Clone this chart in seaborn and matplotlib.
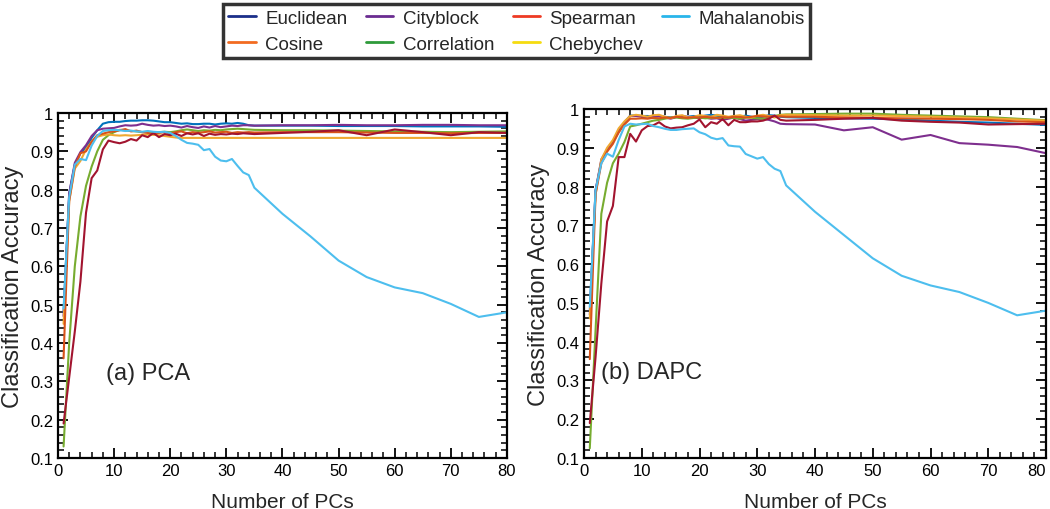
import pandas as pd
import matplotlib.pyplot as plt
import seaborn as sns
from matplotlib.lines import Line2D
from matplotlib.ticker import MultipleLocator, FuncFormatter

sns.set_theme(style='ticks')
plt.rcParams['font.family'] = ['Liberation Sans', 'DejaVu Sans']

pcs = list(range(1, 36)) + [40, 45, 50, 55, 60, 65, 70, 75, 80]
x_ticks = [0, 10, 20, 30, 40, 50, 60, 70, 80]

metrics = ['Euclidean', 'Cosine', 'Cityblock', 'Correlation', 'Spearman', 'Chebychev', 'Mahalanobis']

# line colours in the panels
line_colors = {
    'Euclidean': '#0072BD',
    'Cosine': '#D95319',
    'Cityblock': '#7E2F8E',
    'Correlation': '#77AC30',
    'Spearman': '#A2142F',
    'Chebychev': '#F0A830',
    'Mahalanobis': '#4DBEEE',
}
# colours used in the legend box
legend_colors = {
    'Euclidean': '#1b2f8a',
    'Cosine': '#f26b21',
    'Cityblock': '#6a2c91',
    'Correlation': '#2e9a3a',
    'Spearman': '#ee3a24',
    'Chebychev': '#f5dc10',
    'Mahalanobis': '#29b5ea',
}

# ---- (a) PCA ----
pca_euclidean = [0.48, 0.79, 0.865, 0.895, 0.91, 0.935, 0.955, 0.972, 0.976, 0.977, 0.977, 0.979, 0.98, 0.98, 0.981,
                 0.981, 0.98, 0.978, 0.976, 0.976, 0.974, 0.972, 0.973, 0.971, 0.971, 0.972, 0.972, 0.97, 0.972, 0.973,
                 0.972, 0.974, 0.972, 0.968, 0.967, 0.967, 0.967, 0.966, 0.966, 0.966, 0.965, 0.965, 0.965, 0.964]
pca_cityblock = [0.47, 0.79, 0.87, 0.898, 0.916, 0.94, 0.955, 0.959, 0.96, 0.961, 0.965, 0.968, 0.967, 0.968, 0.972,
                 0.969, 0.967, 0.968, 0.966, 0.967, 0.965, 0.962, 0.966, 0.963, 0.961, 0.965, 0.962, 0.966, 0.963, 0.965,
                 0.967, 0.966, 0.968, 0.968, 0.967, 0.968, 0.968, 0.969, 0.968, 0.968, 0.969, 0.969, 0.968, 0.968]
pca_cosine = [0.36, 0.77, 0.86, 0.895, 0.9, 0.925, 0.942, 0.946, 0.95, 0.952, 0.955, 0.958, 0.952, 0.954, 0.95,
              0.948, 0.945, 0.948, 0.95, 0.946, 0.95, 0.952, 0.947, 0.95, 0.948, 0.95, 0.952, 0.949, 0.95, 0.951,
              0.948, 0.95, 0.949, 0.95, 0.949, 0.95, 0.95, 0.95, 0.949, 0.948, 0.948, 0.947, 0.948, 0.948]
pca_correlation = [0.13, 0.4, 0.6, 0.73, 0.81, 0.86, 0.9, 0.93, 0.942, 0.95, 0.956, 0.955, 0.953, 0.952, 0.95,
                   0.951, 0.949, 0.95, 0.951, 0.95, 0.952, 0.955, 0.957, 0.955, 0.953, 0.955, 0.954, 0.956, 0.955, 0.957,
                   0.958, 0.959, 0.958, 0.957, 0.956, 0.955, 0.955, 0.954, 0.953, 0.952, 0.951, 0.95, 0.951, 0.952]
pca_spearman = [0.19, 0.31, 0.43, 0.56, 0.74, 0.83, 0.85, 0.905, 0.928, 0.924, 0.921, 0.925, 0.932, 0.928, 0.942,
                0.937, 0.948, 0.937, 0.945, 0.942, 0.946, 0.94, 0.947, 0.944, 0.947, 0.94, 0.946, 0.943, 0.945, 0.944,
                0.946, 0.945, 0.947, 0.946, 0.945, 0.948, 0.951, 0.955, 0.942, 0.957, 0.95, 0.942, 0.95, 0.948]
pca_chebychev = [0.45, 0.77, 0.855, 0.875, 0.905, 0.925, 0.938, 0.942, 0.944, 0.942, 0.941, 0.942, 0.941, 0.942, 0.943,
                 0.944, 0.943, 0.942, 0.94, 0.938, 0.936, 0.935, 0.935, 0.935, 0.935, 0.935, 0.935, 0.935, 0.935, 0.935,
                 0.935, 0.935, 0.935, 0.935, 0.935, 0.935, 0.935, 0.935, 0.935, 0.935, 0.935, 0.935, 0.935, 0.935]
pca_mahalanobis = [0.49, 0.78, 0.865, 0.88, 0.877, 0.915, 0.94, 0.953, 0.955, 0.956, 0.955, 0.953, 0.954, 0.952, 0.951,
                   0.953, 0.951, 0.95, 0.951, 0.948, 0.94, 0.93, 0.922, 0.92, 0.917, 0.903, 0.906, 0.886, 0.876, 0.874,
                   0.88, 0.862, 0.845, 0.838, 0.805, 0.737, 0.678, 0.615, 0.572, 0.545, 0.53, 0.502, 0.468, 0.48]

# ---- (b) DAPC ----
dapc_euclidean = [0.48, 0.79, 0.865, 0.895, 0.915, 0.945, 0.965, 0.983, 0.983, 0.982, 0.982, 0.981, 0.982, 0.98, 0.978,
                  0.98, 0.977, 0.98, 0.982, 0.98, 0.983, 0.985, 0.983, 0.98, 0.978, 0.982, 0.98, 0.983, 0.98, 0.978,
                  0.98, 0.984, 0.983, 0.98, 0.979, 0.977, 0.976, 0.975, 0.973, 0.97, 0.967, 0.965, 0.962, 0.959]
dapc_cityblock = [0.47, 0.79, 0.87, 0.895, 0.915, 0.94, 0.965, 0.982, 0.982, 0.98, 0.978, 0.98, 0.981, 0.978, 0.975,
                  0.979, 0.982, 0.98, 0.978, 0.976, 0.978, 0.975, 0.976, 0.972, 0.975, 0.978, 0.974, 0.97, 0.972, 0.974,
                  0.975, 0.972, 0.968, 0.962, 0.961, 0.96, 0.945, 0.953, 0.921, 0.933, 0.912, 0.908, 0.902, 0.886]
dapc_cosine = [0.355, 0.78, 0.86, 0.89, 0.91, 0.94, 0.96, 0.975, 0.975, 0.976, 0.975, 0.977, 0.976, 0.978, 0.977,
               0.98, 0.978, 0.977, 0.979, 0.978, 0.98, 0.978, 0.977, 0.979, 0.978, 0.98, 0.979, 0.978, 0.98, 0.982,
               0.981, 0.98, 0.982, 0.981, 0.98, 0.98, 0.978, 0.977, 0.976, 0.975, 0.974, 0.972, 0.968, 0.966]
dapc_correlation = [0.125, 0.43, 0.73, 0.81, 0.86, 0.885, 0.915, 0.955, 0.958, 0.962, 0.966, 0.97, 0.972, 0.975, 0.978,
                    0.978, 0.976, 0.975, 0.977, 0.978, 0.976, 0.977, 0.978, 0.976, 0.978, 0.977, 0.975, 0.978, 0.977,
                    0.976, 0.975, 0.978, 0.982, 0.985, 0.986, 0.987, 0.988, 0.988, 0.985, 0.983, 0.981, 0.979, 0.975,
                    0.971]
dapc_spearman = [0.19, 0.36, 0.55, 0.71, 0.75, 0.876, 0.876, 0.936, 0.916, 0.945, 0.956, 0.958, 0.966, 0.955, 0.95,
                 0.952, 0.953, 0.958, 0.962, 0.973, 0.953, 0.966, 0.962, 0.974, 0.958, 0.972, 0.966, 0.966, 0.968, 0.968,
                 0.97, 0.975, 0.983, 0.972, 0.97, 0.972, 0.975, 0.977, 0.97, 0.967, 0.965, 0.96, 0.961, 0.962]
dapc_chebychev = [0.46, 0.78, 0.87, 0.9, 0.92, 0.95, 0.968, 0.982, 0.985, 0.983, 0.98, 0.984, 0.985, 0.98, 0.976,
                  0.982, 0.984, 0.978, 0.98, 0.984, 0.982, 0.98, 0.985, 0.983, 0.98, 0.982, 0.984, 0.98, 0.978, 0.983,
                  0.985, 0.982, 0.978, 0.984, 0.985, 0.984, 0.983, 0.983, 0.982, 0.98, 0.978, 0.976, 0.973, 0.97]
dapc_mahalanobis = [0.49, 0.79, 0.86, 0.885, 0.877, 0.92, 0.955, 0.962, 0.96, 0.961, 0.962, 0.956, 0.953, 0.949, 0.946,
                    0.946, 0.948, 0.949, 0.95, 0.94, 0.935, 0.926, 0.922, 0.925, 0.906, 0.904, 0.903, 0.884, 0.878,
                    0.872, 0.876, 0.858, 0.846, 0.84, 0.803, 0.735, 0.675, 0.615, 0.57, 0.545, 0.528, 0.5, 0.468, 0.48]

pca = {'Euclidean': pca_euclidean, 'Cosine': pca_cosine, 'Cityblock': pca_cityblock,
       'Correlation': pca_correlation, 'Spearman': pca_spearman, 'Chebychev': pca_chebychev,
       'Mahalanobis': pca_mahalanobis}
dapc = {'Euclidean': dapc_euclidean, 'Cosine': dapc_cosine, 'Cityblock': dapc_cityblock,
        'Correlation': dapc_correlation, 'Spearman': dapc_spearman, 'Chebychev': dapc_chebychev,
        'Mahalanobis': dapc_mahalanobis}

draw_order = ['Euclidean', 'Cityblock', 'Correlation', 'Chebychev', 'Cosine', 'Spearman', 'Mahalanobis']


def to_long(d):
    frames = []
    for name in metrics:
        frames.append(pd.DataFrame({'PCs': pcs, 'Accuracy': d[name], 'Metric': name}))
    return pd.concat(frames, ignore_index=True)


fig = plt.figure(figsize=(10.5, 5.1), dpi=100)
ax1 = fig.add_axes([0.0552, 0.1, 0.4276, 0.6765])
ax2 = fig.add_axes([0.5562, 0.1, 0.44, 0.6843])

for ax, d, tag, tx in [(ax1, pca, '(a) PCA', 8.5), (ax2, dapc, '(b) DAPC', 3.0)]:
    sns.lineplot(data=to_long(d), x='PCs', y='Accuracy', hue='Metric', hue_order=draw_order,
                 palette=line_colors, ax=ax, legend=False, linewidth=1.5, estimator=None)
    ax.set_xlim(0, 80)
    ax.set_ylim(0.1, 1.0)
    ax.tick_params(which='both', direction='in', top=True, right=True, colors='black', labelsize=12)
    ax.tick_params(which='major', length=7, width=1.3)
    ax.tick_params(which='minor', length=4, width=1.1)
    ax.set_xticks(x_ticks)
    xlabels = ax.set_xticklabels([str(t) for t in x_ticks])
    if ax is ax2:
        # keep the last tick label inside the figure
        xlabels[-1].set_horizontalalignment('right')
    ax.xaxis.set_minor_locator(MultipleLocator(2))
    ax.yaxis.set_major_locator(MultipleLocator(0.1))
    ax.yaxis.set_minor_locator(MultipleLocator(0.02))
    ax.yaxis.set_major_formatter(FuncFormatter(lambda v, _: f'{v:g}'))
    for s in ax.spines.values():
        s.set_linewidth(1.6)
        s.set_color('black')
    ax.set_xlabel('Number of PCs', fontsize=15, labelpad=10)
    ax.set_ylabel('Classification Accuracy', fontsize=17, labelpad=4)
    ax.text(tx, 0.322, tag, fontsize=17, va='center', ha='left')

handles = [Line2D([0], [0], color=legend_colors[m], lw=2) for m in metrics]
leg = fig.legend(handles, metrics, loc='upper center', bbox_to_anchor=(0.492, 0.997), ncol=4,
                 fontsize=13.5, frameon=True, fancybox=False, edgecolor='black', handlelength=1.45,
                 columnspacing=1.0, labelspacing=0.45, borderpad=0.3, handletextpad=0.5, borderaxespad=0.2)
leg.get_frame().set_linewidth(2.5)

fig.savefig('out.png', dpi=100)
